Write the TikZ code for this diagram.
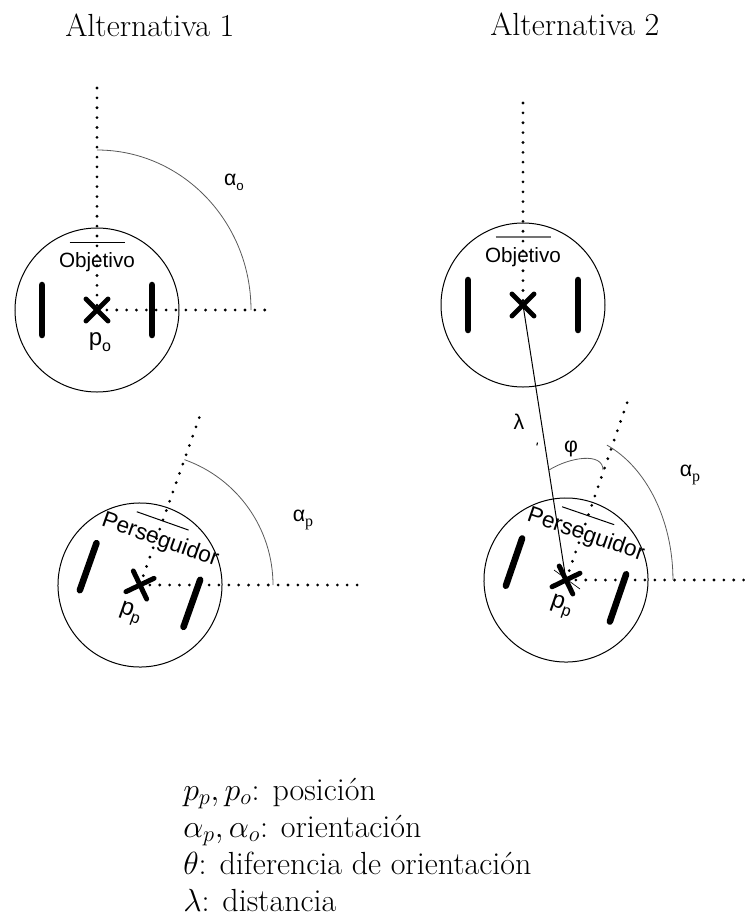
\RequirePackage{fix-cm}
\documentclass[tikz,border=0pt]{standalone}
\usepackage{fontspec}
\newfontfamily\lsans{Liberation Sans}
\newfontfamily\lserif{Liberation Serif}
\usetikzlibrary{calc}

\tikzset{
  wheel/.style={line width=4.9pt, line cap=round},
  cross/.style={line width=3.7pt, line cap=round},
  dots/.style={line width=2.3pt, line cap=round, dash pattern=on 0pt off 7.4pt},
  angarc/.style={line width=0.6pt, black!65},
  tag/.style={font=\lsans\fontsize{15.5}{15.5}\selectfont, inner sep=0pt},
  ptag/.style={font=\lsans\fontsize{18}{18}\selectfont, inner sep=0pt},
  greek/.style={font=\lsans\fontsize{16}{16}\selectfont, inner sep=0pt},
  title/.style={font=\fontsize{24}{24}\selectfont, inner sep=0pt},
  legend/.style={font=\fontsize{24}{28}\selectfont, inner sep=0pt, anchor=base west},
  robot bar/.style={line width=0.75pt},
  robot text shift/.style={},
  robot/.pic={
    \draw[line width=0.75pt] (0,0) circle[radius=82];
    \draw[wheel] (-55,-25) -- (-55,25);
    \draw[wheel] (55,-25) -- (55,25);
    \draw[cross] (-11,-11) -- (11,11) (-11,11) -- (11,-11);
    \node[tag, anchor=base, transform shape, robot text shift] (-name) at (0,43) {#1};
    \draw[robot bar] (-27.5,68) -- (27.5,68);
  },
  chaser/.style={rotate=#1,
    tag/.append style={font=\lsans\fontsize{17}{17}\selectfont},
    robot text shift/.style={xshift=3pt}},
}

\newcommand{\subo}{\raisebox{-3.5pt}{\fontsize{10}{10}\selectfont o}}
\newcommand{\subp}{\raisebox{-3.5pt}{\lserif\fontsize{12}{12}\selectfont p}}
\newcommand{\possub}[1]{p\raisebox{-4pt}{\fontsize{12}{12}\selectfont #1}}

\begin{document}
\begin{tikzpicture}[x=0.75pt, y=0.75pt]
\useasboundingbox (0,0) rectangle (744,-922);

% titles
\node[title, anchor=base west] (t1) at (65,-36) {Alternativa 1};
\node[title, anchor=base west] (t2) at (490,-35) {Alternativa 2};

% robot centres
\coordinate (o1c) at (97,-310);
\coordinate (o2c) at (523,-305);
\coordinate (p1c) at (140,-585);
\coordinate (p2c) at (566,-580);

% robots
\pic (o1) at (o1c) {robot=Objetivo};
\pic[robot bar/.style={black!55, line width=1.2pt}] (o2) at (o2c) {robot=Objetivo};
\pic[chaser=-19.5] (p1) at (p1c) {robot=Perseguidor};
\pic[chaser=-19] (p2) at (p2c) {robot=Perseguidor};

% ---- Alternativa 1 ----
\coordinate (o1top) at (97,-88);
\coordinate (o1right) at (272,-310);
\draw[dots] (o1top) -- (o1c);
\draw[dots] (o1c) -- (o1right);
\draw[angarc] (97,-150) arc[start angle=90, end angle=0, x radius=154, y radius=160];
\node[greek] (ao) at (234,-182) {α\subo};
\node[ptag] (po) at (100,-342) {\possub{o}};

\coordinate (p1dir) at ($(p1c)+(70.5:179)$);
\coordinate (p1right) at (358,-585);
\draw[dots] (p1c) -- (p1dir);
\draw[dots] (p1c) -- (p1right);
\draw[angarc] ($(p1c)+(70.5:133)$) arc[start angle=70.5, end angle=0, radius=133];
\node[greek] (ap1) at (303,-520) {α\subp};
\node[ptag, rotate=-19.5] (pp1) at (130,-614) {\possub{p}};

% ---- Alternativa 2 ----
\coordinate (o2top) at (523,-103);
\draw[dots] (o2top) -- (o2c);

\coordinate (p2dir) at ($(p2c)+(71:193)$);
\coordinate (p2right) at (744,-580);
\draw[dots] (p2c) -- (p2dir);
\draw[dots] (p2c) -- (p2right);
\draw[line width=0.75pt] (o2c) -- (p2c);
\draw[line width=0.5pt] (554,-570) -- (580,-589);
\draw[angarc] (606.9,-445.1) arc[start angle=67.5, end angle=0, x radius=107, y radius=146];
\draw[angarc] (549,-470) .. controls (570,-457) and (603,-452) .. (603,-470);
\node[greek] (ap2) at (690,-475) {α\subp};
\node[greek] (lam) at (519,-422) {λ};
\node[greek] (phi) at (571,-449) {φ};
\draw[line width=0.8pt] (537.5,-442.5) -- (536.8,-445.5);
\node[ptag, rotate=-19] (pp2) at (561,-607) {\possub{p}};

% legend
\node[legend] (l1) at (183,-800) {$p_p, p_o$: posición};
\node[legend] (l2) at (183,-837) {$\alpha_p, \alpha_o$: orientación};
\node[legend] (l3) at (183,-874) {$\theta$: diferencia de orientación};
\node[legend] (l4) at (183,-911) {$\lambda$: distancia};
\end{tikzpicture}
\end{document}
